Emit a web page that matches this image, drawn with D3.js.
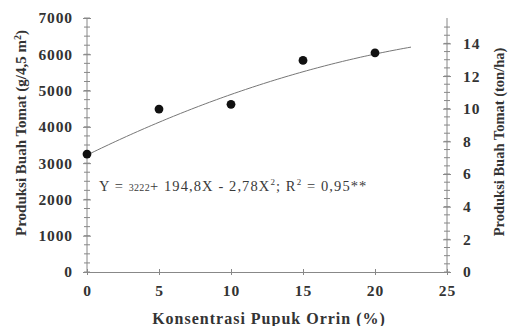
<!DOCTYPE html>
<html>
<head>
<meta charset="utf-8">
<script src="https://cdn.jsdelivr.net/npm/d3@7.9.0/dist/d3.min.js"></script>
<style>
  body { margin: 0; background: #fff; }
  svg { display: block; font-family: "Liberation Serif", "Times New Roman", serif; }
  .axis { font-family: "Liberation Serif", "Times New Roman", serif; }
  .tick text { font-weight: bold; font-size: 15.5px; fill: #333; letter-spacing: 0.9px; }
  .axis path, .axis line { stroke: #888; }
</style>
</head>
<body>
<div id="chart"></div>
<script>
// ---- data ----
const konsentrasi = [0, 5, 10, 15, 20];
const produksi = [3250, 4490, 4620, 5830, 6040];
const coef = { a: 3222, b: 194.8, c: -2.78 }; // regression Y = a + bX + cX^2
const xTicks = [0, 5, 10, 15, 20, 25];
const yTicks = [0, 1000, 2000, 3000, 4000, 5000, 6000, 7000];
const y2Ticks = [0, 2, 4, 6, 8, 10, 12, 14];

const width = 511, height = 326;
const margin = { top: 18, right: 64, bottom: 54, left: 87 };

const svg = d3.select('#chart').append('svg')
  .attr('width', width).attr('height', height);

const x = d3.scaleLinear().domain([0, 25]).range([margin.left, width - margin.right]);
const y = d3.scaleLinear().domain([0, 7000]).range([height - margin.bottom, margin.top]);
// 7000 g / 4.5 m2 -> ton/ha
const y2 = d3.scaleLinear().domain([0, 7000 / 4.5 / 100]).range([height - margin.bottom, margin.top]);

// minor ticks (both sides of the axis)
function minor(g, scale, values) {
  g.selectAll('line.minor').data(values).join('line')
    .attr('class', 'minor')
    .attr('x1', -3).attr('x2', 3)
    .attr('y1', d => scale(d)).attr('y2', d => scale(d))
    .attr('stroke', '#888');
}

// left axis
const gy = svg.append('g').attr('class', 'axis')
  .attr('transform', `translate(${margin.left},0)`)
  .call(d3.axisLeft(y).tickValues(yTicks).tickFormat(d3.format('d'))
    .tickSize(4).tickSizeOuter(0).tickPadding(10));
gy.selectAll('.tick line').attr('x2', 4).attr('x1', -4);
minor(gy, y, d3.range(0, 7001, 250));
gy.select('.domain').attr('d', `M0,${y(7000)}V${y(0)}`);

// right axis
const gy2 = svg.append('g').attr('class', 'axis')
  .attr('transform', `translate(${width - margin.right},0)`)
  .call(d3.axisRight(y2).tickValues(y2Ticks).tickSize(4).tickSizeOuter(0).tickPadding(12));
gy2.selectAll('.tick line').attr('x1', -4).attr('x2', 4);
minor(gy2, y2, d3.range(0, 15.5, 0.5));
gy2.select('.domain').attr('d', `M0,${y2(y2.domain()[1])}V${y2(0)}`);

// x axis
const gx = svg.append('g').attr('class', 'axis')
  .attr('transform', `translate(0,${height - margin.bottom})`)
  .call(d3.axisBottom(x).tickValues(xTicks).tickSize(3).tickSizeOuter(0).tickPadding(8));
gx.selectAll('.tick line').attr('y1', -3).attr('y2', 3);
gx.selectAll('.tick text').attr('dy', '0.85em');

// regression curve
const xs = d3.range(0, 22.51, 0.25);
svg.append('path')
  .datum(xs)
  .attr('fill', 'none')
  .attr('stroke', '#777')
  .attr('stroke-width', 1)
  .attr('d', d3.line().x(d => x(d)).y(d => y(coef.a + coef.b * d + coef.c * d * d)));

// points
svg.append('g').selectAll('circle')
  .data(konsentrasi)
  .join('circle')
  .attr('cx', d => x(d))
  .attr('cy', (d, i) => y(produksi[i]))
  .attr('r', 4.4)
  .attr('fill', '#111');

// equation
const eq = svg.append('text')
  .attr('x', 99).attr('y', 191)
  .attr('font-size', 14.5).attr('fill', '#3a3a3a')
  .attr('letter-spacing', 1.1);
eq.append('tspan').text('Y = ');
eq.append('tspan').attr('font-size', 10).attr('letter-spacing', 0.3).text('3222');
eq.append('tspan').text('+ 194,8X - 2,78X');
eq.append('tspan').attr('font-size', 9).attr('dy', -6).text('2');
eq.append('tspan').attr('dy', 6).text(';  R');
eq.append('tspan').attr('font-size', 9).attr('dy', -6).text('2');
eq.append('tspan').attr('dy', 6).text(' = 0,95**');

// axis titles
svg.append('text')
  .attr('x', (x(0) + x(25)) / 2 + 2).attr('y', 324)
  .attr('text-anchor', 'middle')
  .attr('font-weight', 'bold').attr('font-size', 16).attr('fill', '#333')
  .attr('letter-spacing', 1)
  .text('Konsentrasi Pupuk Orrin (%)');

const lt = svg.append('text')
  .attr('transform', 'translate(26,133) rotate(-90)')
  .attr('text-anchor', 'middle')
  .attr('font-weight', 'bold').attr('font-size', 15).attr('fill', '#333');
lt.append('tspan').text('Produksi Buah Tomat (g/4,5 m');
lt.append('tspan').attr('font-size', 10).attr('dy', -5).text('2');
lt.append('tspan').attr('dy', 5).text(')');

svg.append('text')
  .attr('transform', 'translate(504,142) rotate(-90)')
  .attr('text-anchor', 'middle')
  .attr('font-weight', 'bold').attr('font-size', 14.5).attr('fill', '#333')
  .text('Produksi  Buah Tomat (ton/ha)');
</script>
</body>
</html>
